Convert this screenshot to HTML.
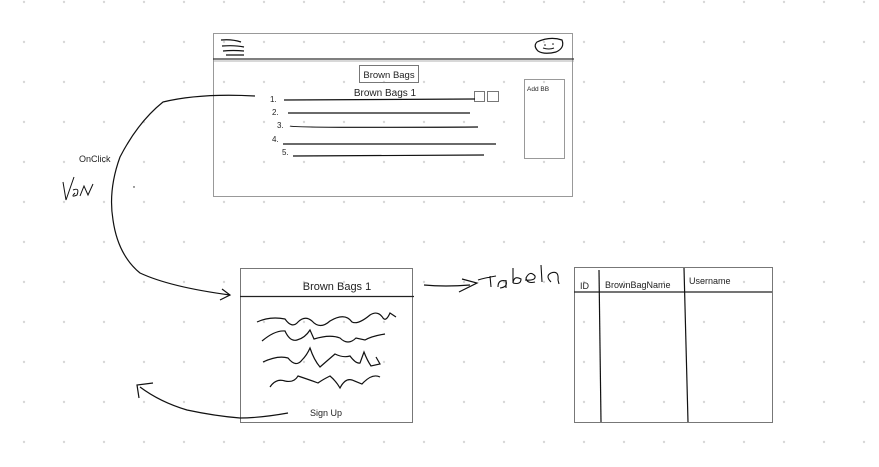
<!DOCTYPE html>
<html><head><meta charset="utf-8"><style>
html,body{margin:0;padding:0;background:#fff;}
svg{display:block;}
text{font-family:"Liberation Sans",sans-serif;fill:#222;}
</style></head><body>
<svg width="879" height="467" viewBox="0 0 879 467" xmlns="http://www.w3.org/2000/svg">
<defs><pattern id="d" x="0" y="0" width="40" height="40" patternUnits="userSpaceOnUse"><circle cx="24" cy="2" r="1.2" fill="#d8d8d8"/></pattern></defs>
<rect width="879" height="467" fill="url(#d)"/>
<!-- top window -->
<rect x="213.5" y="33.5" width="359" height="163" fill="none" stroke="#999" stroke-width="1"/>
<line x1="213" y1="59" x2="574" y2="59" stroke="#333" stroke-width="1.2"/>
<line x1="213" y1="61" x2="574" y2="61" stroke="#999" stroke-width="0.8"/>
<path d="M221 40 Q232 39 241 42 M222 46 Q235 45 244 47 M223 51 Q233 50 244 51 M226 55 L244 55" stroke="#111" stroke-width="1.2" fill="none"/>
<path d="M537 42 Q550 36 562 40 Q565 48 556 52 Q544 55 538 51 Q533 46 537 42 Z" stroke="#111" stroke-width="1.2" fill="none"/>
<circle cx="545" cy="45" r="0.8" fill="#111"/><circle cx="553" cy="44" r="0.8" fill="#111"/>
<path d="M543 48 Q549 50 554 48" stroke="#111" fill="none"/>
<rect x="359.5" y="65.5" width="59" height="17" fill="none" stroke="#777"/>
<text x="389" y="78" font-size="9.5" text-anchor="middle">Brown Bags</text>
<text x="385" y="96" font-size="10" text-anchor="middle">Brown Bags 1</text>
<rect x="474.5" y="91.5" width="10" height="10" fill="none" stroke="#777"/>
<rect x="487.5" y="91.5" width="11" height="10" fill="none" stroke="#777"/>
<g font-size="8" fill="#999"><text x="270" y="102" fill="#aaa">1.</text><text x="272" y="115" fill="#aaa">2.</text><text x="277" y="128" fill="#aaa">3.</text><text x="272" y="142" fill="#aaa">4.</text><text x="282" y="155" fill="#aaa">5.</text></g>
<g stroke="#111" stroke-width="1.2" fill="none">
<line x1="284" y1="100" x2="475" y2="99"/>
<line x1="288" y1="113" x2="470" y2="113"/>
<path d="M290 126 Q292 128 478 127"/>
<line x1="283" y1="144" x2="496" y2="144"/>
<line x1="293" y1="156" x2="484" y2="155"/>
</g>
<rect x="524.5" y="79.5" width="40" height="79" fill="none" stroke="#999"/>
<text x="527" y="91" font-size="6.5" fill="#555">Add BB</text>
<!-- left arrow curve -->
<path d="M255 96 Q200 93 163 102 Q138 122 120 157 Q108 190 113 220 Q118 255 140 273 Q170 287 230 295" stroke="#111" stroke-width="1.2" fill="none"/>
<path d="M222 289 L230 295 L220 300" stroke="#111" stroke-width="1.2" fill="none"/>
<text x="79" y="162" font-size="9" fill="#444">OnClick</text>
<path d="M63 182 L66 200 L74 177 M73 190 Q80 187 77 195 Q70 198 75 193 M80 196 L84 186 L88 195 L93 184" stroke="#111" stroke-width="1" fill="none"/>
<circle cx="134" cy="187" r="0.7" fill="#111"/>
<!-- middle box -->
<rect x="240.5" y="268.5" width="172" height="154" fill="none" stroke="#777"/>
<line x1="240" y1="296.5" x2="414" y2="296.5" stroke="#222" stroke-width="1.2"/>
<text x="337" y="290" font-size="11" text-anchor="middle">Brown Bags 1</text>
<g stroke="#111" stroke-width="1.2" fill="none">
<path d="M257 322 Q270 316 285 319 Q292 329 298 322 Q305 315 312 321 Q320 330 330 321 Q345 312 352 322 Q358 325 370 315 Q378 310 383 318 Q386 322 390 313 L396 317"/>
<path d="M262 341 Q275 330 285 331 Q290 342 297 340 Q305 338 310 330 L314 339 Q330 334 340 338 Q348 346 356 338 L365 340 Q372 336 385 334"/>
<path d="M263 362 Q278 355 288 358 Q296 368 302 360 Q307 355 310 348 Q314 360 320 367 Q328 360 335 354 Q343 358 350 356 Q356 364 360 363 L364 352 Q367 360 371 366 L380 364 L376 357"/>
<path d="M270 387 Q276 378 285 381 Q294 383 298 376 Q310 380 318 383 Q322 380 330 376 Q336 381 340 388 Q345 378 352 380 L362 384 Q372 373 380 377"/>
</g>
<text x="326" y="416" font-size="9" text-anchor="middle">Sign Up</text>
<path d="M288 413 Q260 418 240 418 Q215 416 187 410 Q160 402 140 387" stroke="#111" stroke-width="1.2" fill="none"/>
<path d="M139 398 L137 385 L153 383" stroke="#111" stroke-width="1.2" fill="none"/>
<!-- Tabela arrow -->
<path d="M424 285 Q445 287 470 285 M462 279 L477 283 L459 292" stroke="#111" stroke-width="1.2" fill="none"/>
<path d="M478 280 Q484 278 496 276 M490 276 L491 287 M498 287 Q498 279 506 281 Q508 287 500 288 M506 280 L506 288 M513 268 L513 283 Q514 275 521 279 Q521 285 513 283 M525 280 Q536 281 535 276 Q530 270 526 278 Q527 284 535 282 M541 265 L542 282 M551 282 Q545 276 551 273 Q559 270 558 280 L559 284" stroke="#111" stroke-width="1.1" fill="none"/>
<!-- table -->
<rect x="574.5" y="267.5" width="198" height="155" fill="none" stroke="#777"/>
<line x1="574" y1="292" x2="772" y2="292" stroke="#222" stroke-width="1.2"/>
<line x1="599" y1="270" x2="601" y2="422" stroke="#111" stroke-width="1.2"/>
<line x1="684" y1="268" x2="688" y2="422" stroke="#111" stroke-width="1.2"/>
<text x="580" y="289" font-size="9">ID</text>
<text x="605" y="288" font-size="9">BrownBagName</text>
<text x="689" y="284" font-size="9">Username</text>
</svg>
</body></html>
